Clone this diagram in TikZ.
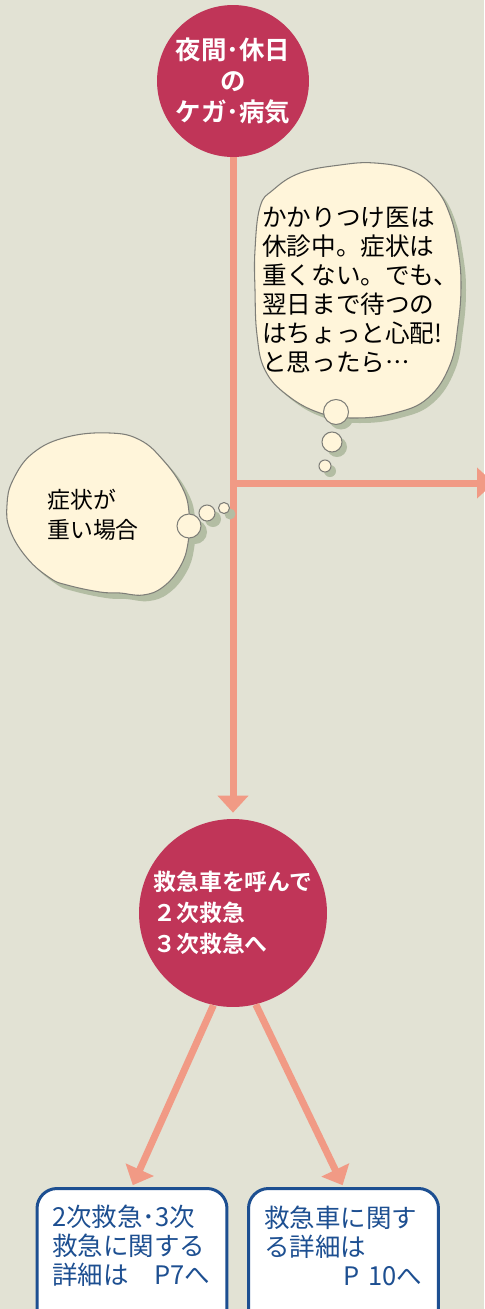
\documentclass[tikz,border=0pt]{standalone}
\usepackage{fontspec}
\setmainfont{Noto Sans CJK JP}[BoldFont={Noto Sans CJK JP Bold},Script=CJK,Language=Japanese]
\usetikzlibrary{arrows.meta}

\definecolor{bg}{HTML}{E2E2D4}
\definecolor{salmon}{HTML}{F19A85}
\definecolor{crimson}{HTML}{C03558}
\definecolor{cream}{HTML}{FFF5DA}
\definecolor{bubshadow}{HTML}{B3BDA3}
\definecolor{bubline}{HTML}{7E7E78}
\definecolor{navy}{HTML}{1D4F91}

\begin{document}
\begin{tikzpicture}[x=0.02cm,y=-0.02cm,>={Triangle[width=0.6cm,length=0.34cm]},
                    line join=round]
  \tikzstyle{flow}=[->,draw=salmon,line width=0.14cm,shorten >=0.04cm]
  \tikzstyle{redball}=[circle,fill=crimson,text=white,inner sep=0pt,align=center,
                       font=\bfseries\fontsize{13pt}{17.6pt}\selectfont]
  \tikzstyle{bubble}=[fill=cream,draw=bubline,line width=0.6pt]
  \tikzstyle{bubshade}=[fill=bubshadow]
  \tikzstyle{infobox}=[draw=navy,line width=0.06cm,fill=white,rounded corners=0.4cm,
                       minimum width=3.8cm,minimum height=3cm,anchor=north]
  \tikzstyle{thought}=[align=left,anchor=west,inner sep=0pt,text=black]
  \tikzstyle{boxtext}=[align=left,anchor=west,inner sep=0pt,text=navy,
                       font=\fontsize{14.5pt}{16.5pt}\selectfont]

  \fill[bg] (0,0) rectangle (484,1309);
  \useasboundingbox (0,0) rectangle (484,1309);

  % circles and boxes
  \node[redball,minimum size=3.04cm,font=\bfseries\fontsize{14.5pt}{17.6pt}\selectfont]
       (night) at (233,81) {夜間･休日\\の\\ケガ･病気};
  \node[redball,minimum size=3.76cm,align=left] (amb) at (233,913)
       {救急車を呼んで\\２次救急\\３次救急へ};
  \node[infobox] (box1) at (132,1187) {};
  \node[infobox] (box2) at (343.5,1187) {};
  \node[boxtext] (box1txt) at (52,1246) {2次救急･3次\\救急に関する\\詳細は　P7へ};
  \node[boxtext,text width=3.15cm] (box2txt) at (264,1246)
       {救急車に関す\\る詳細は\\\mbox{}\hfill P 10へ};

  % connectors
  \coordinate (fork) at (233,483);
  \coordinate (exit) at (494,483);
  \draw[flow,shorten >=0.12cm] (night) -- (amb);
  \draw[flow,shorten >=0pt] (fork) -- (exit);
  \draw[flow] (amb.-102) -- (box1.north);
  \draw[flow] (amb.-76) -- (box2.north);

  % thought bubble right
  \begin{scope}[shift={(5,5)}]
    \fill[bubshade] plot[smooth cycle,tension=0.7] coordinates {
      (260,207) (273,190) (300,173) (340,165) (375,163) (410,170) (435,188)
      (450,215) (458,250) (461,285) (458,325) (450,365) (428,398) (395,413)
      (355,418) (320,413) (287,395) (265,370) (257,335) (255,290) (255,250)};
    \fill[bubshade] (336,412) circle (12.5) (332,442) circle (10) (325,466) circle (6);
  \end{scope}
  \draw[bubble] plot[smooth cycle,tension=0.7] coordinates {
      (260,207) (273,190) (300,173) (340,165) (375,163) (410,170) (435,188)
      (450,215) (458,250) (461,285) (458,325) (450,365) (428,398) (395,413)
      (355,418) (320,413) (287,395) (265,370) (257,335) (255,290) (255,250)};
  \draw[bubble] (336,412) circle (12.5) (332,442) circle (10) (325,466) circle (6);
  \node[thought,font=\fontsize{14pt}{16.5pt}\selectfont] (worry) at (262,290)
       {かかりつけ医は\\休診中。症状は\\重くない。でも、\\翌日まで待つの\\はちょっと心配!\\と思ったら…};

  % thought bubble left
  \begin{scope}[shift={(6,6)}]
    \fill[bubshade] plot[smooth cycle,tension=0.7] coordinates {
      (110,433) (140,440) (163,460) (182,487) (189,512) (188,543) (180,567)
      (163,587) (143,595) (120,593) (100,592) (67,585) (50,578) (27,558)
      (10,530) (7,505) (13,480) (33,453) (67,437)};
    \fill[bubshade] (189,526) circle (12) (207,513) circle (8) (224,508) circle (5.5);
  \end{scope}
  \draw[bubble] plot[smooth cycle,tension=0.7] coordinates {
      (110,433) (140,440) (163,460) (182,487) (189,512) (188,543) (180,567)
      (163,587) (143,595) (120,593) (100,592) (67,585) (50,578) (27,558)
      (10,530) (7,505) (13,480) (33,453) (67,437)};
  \draw[bubble] (189,526) circle (12) (207,513) circle (8) (224,508) circle (5.5);
  \node[thought,font=\fontsize{13pt}{17pt}\selectfont] (severe) at (47,515)
       {症状が\\重い場合};
\end{tikzpicture}
\end{document}
